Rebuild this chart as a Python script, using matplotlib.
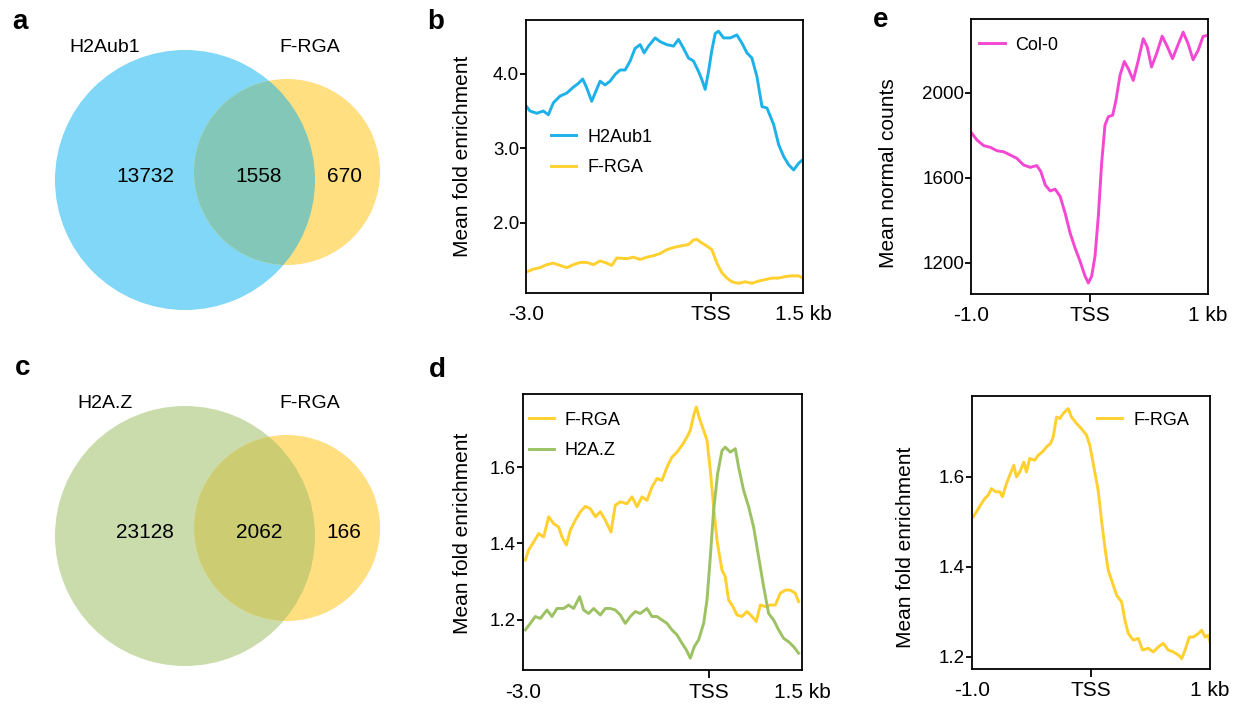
import numpy as np
import matplotlib
matplotlib.use('Agg')
import matplotlib.pyplot as plt
from matplotlib.patches import Circle

plt.rcParams['font.family'] = ['Liberation Sans', 'DejaVu Sans']

# ── Venn counts ───────────────────────────────────────────────────────────────
venn_a_sets   = ['H2Aub1', 'F-RGA']
venn_a_counts = [13732, 1558, 670]
venn_c_sets   = ['H2A.Z', 'F-RGA']
venn_c_counts = [23128, 2062, 166]

# ── Panel b: H2Aub1 / F-RGA profiles (-3 kb .. TSS .. 1.5 kb) ─────────────────
b_h2aub1_x = [-3.0, -2.935, -2.826, -2.718, -2.637, -2.555, -2.447, -2.338, -2.23, -2.149,
              -2.078, -2.013, -1.932, -1.877, -1.796, -1.715, -1.633, -1.552, -1.471, -1.389,
              -1.308, -1.227, -1.145, -1.08, -1.01, -0.901, -0.82, -0.712, -0.603, -0.522,
              -0.44, -0.359, -0.278, -0.196, -0.142, -0.088, -0.034, 0.021, 0.075, 0.129,
              0.21, 0.319, 0.427, 0.509, 0.59, 0.671, 0.753, 0.834, 0.915, 1.024,
              1.105, 1.187, 1.268, 1.349, 1.431, 1.5]
b_h2aub1_y = [3.57, 3.50, 3.47, 3.50, 3.45, 3.61, 3.70, 3.74, 3.82, 3.87,
              3.93, 3.81, 3.63, 3.74, 3.90, 3.85, 3.90, 3.99, 4.05, 4.05,
              4.17, 4.34, 4.39, 4.28, 4.37, 4.48, 4.43, 4.39, 4.37, 4.46,
              4.34, 4.21, 4.17, 4.03, 3.92, 3.79, 4.03, 4.32, 4.54, 4.57,
              4.48, 4.48, 4.52, 4.41, 4.28, 4.21, 3.96, 3.56, 3.54, 3.32,
              3.05, 2.89, 2.78, 2.71, 2.80, 2.85]
b_frga_x = [-3.0, -2.881, -2.772, -2.664, -2.555, -2.447, -2.338, -2.23, -2.121, -2.013,
            -1.904, -1.796, -1.687, -1.606, -1.525, -1.362, -1.254, -1.145, -1.037, -0.928,
            -0.82, -0.712, -0.603, -0.495, -0.359, -0.278, -0.224, -0.142, -0.061, 0.021,
            0.102, 0.184, 0.265, 0.346, 0.455, 0.563, 0.672, 0.78, 0.889, 0.997,
            1.105, 1.214, 1.322, 1.431, 1.5]
b_frga_y = [1.34, 1.38, 1.40, 1.44, 1.46, 1.43, 1.40, 1.44, 1.47, 1.47,
            1.44, 1.49, 1.46, 1.43, 1.53, 1.52, 1.54, 1.51, 1.54, 1.56,
            1.59, 1.64, 1.67, 1.69, 1.71, 1.77, 1.78, 1.73, 1.69, 1.64,
            1.46, 1.33, 1.26, 1.21, 1.19, 1.21, 1.19, 1.22, 1.24, 1.26,
            1.26, 1.28, 1.29, 1.29, 1.26]

# ── Panel d: F-RGA / H2A.Z profiles ───────────────────────────────────────────
d_frga_x = [-2.962, -2.909, -2.828, -2.747, -2.667, -2.586, -2.505, -2.425, -2.371, -2.301,
            -2.237, -2.156, -2.075, -1.995, -1.914, -1.833, -1.753, -1.672, -1.581, -1.511,
            -1.43, -1.323, -1.242, -1.161, -1.081, -1.0, -0.919, -0.839, -0.758, -0.677,
            -0.597, -0.516, -0.435, -0.355, -0.301, -0.247, -0.204, -0.151, -0.086, -0.032,
            0.022, 0.075, 0.129, 0.21, 0.263, 0.317, 0.387, 0.452, 0.532, 0.613,
            0.694, 0.763, 0.828, 0.909, 0.989, 1.07, 1.151, 1.231, 1.312, 1.392, 1.446]
d_frga_y = [1.357, 1.383, 1.404, 1.426, 1.417, 1.470, 1.452, 1.443, 1.417, 1.396,
            1.435, 1.461, 1.483, 1.497, 1.491, 1.470, 1.483, 1.461, 1.430, 1.500,
            1.509, 1.504, 1.522, 1.496, 1.522, 1.513, 1.548, 1.570, 1.565, 1.600,
            1.626, 1.639, 1.657, 1.678, 1.696, 1.735, 1.757, 1.726, 1.696, 1.670,
            1.591, 1.496, 1.409, 1.330, 1.313, 1.252, 1.235, 1.213, 1.209, 1.222,
            1.209, 1.196, 1.239, 1.235, 1.239, 1.239, 1.270, 1.278, 1.278, 1.270, 1.248]
d_h2az_x = [-2.962, -2.882, -2.801, -2.72, -2.613, -2.532, -2.452, -2.344, -2.264, -2.183,
            -2.086, -2.022, -1.941, -1.86, -1.753, -1.672, -1.591, -1.511, -1.43, -1.349,
            -1.269, -1.188, -1.108, -1.0, -0.919, -0.839, -0.758, -0.677, -0.597, -0.516,
            -0.435, -0.366, -0.301, -0.237, -0.167, -0.086, -0.032, 0.022, 0.075, 0.14,
            0.21, 0.263, 0.344, 0.425, 0.478, 0.559, 0.64, 0.72, 0.801, 0.882,
            0.962, 1.043, 1.124, 1.204, 1.285, 1.366, 1.446]
d_h2az_y = [1.174, 1.191, 1.209, 1.204, 1.226, 1.209, 1.230, 1.230, 1.239, 1.230,
            1.261, 1.226, 1.217, 1.230, 1.213, 1.230, 1.230, 1.226, 1.213, 1.191,
            1.209, 1.222, 1.217, 1.230, 1.209, 1.209, 1.200, 1.191, 1.174, 1.161,
            1.139, 1.122, 1.100, 1.130, 1.148, 1.191, 1.252, 1.365, 1.487, 1.583,
            1.643, 1.652, 1.639, 1.648, 1.600, 1.539, 1.496, 1.443, 1.365, 1.287,
            1.217, 1.200, 1.174, 1.152, 1.143, 1.130, 1.113]

# ── Panel e: Col-0 counts (-1 kb .. TSS .. 1 kb) ──────────────────────────────
e_col0_x = [-0.992, -0.95, -0.893, -0.837, -0.781, -0.725, -0.669, -0.613, -0.557, -0.501,
            -0.445, -0.411, -0.374, -0.332, -0.29, -0.248, -0.206, -0.164, -0.122, -0.08,
            -0.038, -0.01, 0.018, 0.046, 0.074, 0.102, 0.13, 0.158, 0.195, 0.223,
            0.257, 0.293, 0.327, 0.369, 0.411, 0.453, 0.487, 0.523, 0.565, 0.613,
            0.658, 0.7, 0.739, 0.79, 0.832, 0.874, 0.916, 0.958, 0.992]
e_col0_y = [1809, 1778, 1752, 1744, 1728, 1723, 1708, 1692, 1661, 1650,
            1658, 1630, 1567, 1539, 1547, 1513, 1434, 1341, 1270, 1208,
            1138, 1106, 1138, 1231, 1419, 1669, 1848, 1888, 1895, 1966,
            2083, 2148, 2114, 2059, 2153, 2255, 2216, 2122, 2184, 2267,
            2216, 2161, 2216, 2286, 2231, 2156, 2200, 2266, 2270]

# ── Panel f: F-RGA (-1 kb .. TSS .. 1 kb) ─────────────────────────────────────
f_frga_x = [-0.992, -0.964, -0.93, -0.893, -0.865, -0.837, -0.801, -0.767, -0.745, -0.711,
            -0.683, -0.649, -0.627, -0.599, -0.565, -0.543, -0.515, -0.473, -0.445, -0.408,
            -0.374, -0.341, -0.318, -0.29, -0.262, -0.234, -0.192, -0.164, -0.122, -0.08,
            -0.038, -0.01, 0.024, 0.06, 0.088, 0.116, 0.144, 0.173, 0.215, 0.257,
            0.285, 0.313, 0.355, 0.397, 0.433, 0.481, 0.523, 0.565, 0.607, 0.649,
            0.691, 0.734, 0.762, 0.79, 0.826, 0.86, 0.902, 0.93, 0.958, 0.986, 1.0]
f_frga_y = [1.511, 1.522, 1.537, 1.552, 1.559, 1.574, 1.567, 1.567, 1.556, 1.585,
            1.604, 1.626, 1.600, 1.611, 1.633, 1.611, 1.641, 1.637, 1.648, 1.656,
            1.667, 1.674, 1.689, 1.733, 1.730, 1.741, 1.752, 1.733, 1.719, 1.707,
            1.693, 1.670, 1.622, 1.570, 1.504, 1.444, 1.393, 1.370, 1.337, 1.322,
            1.281, 1.252, 1.237, 1.241, 1.215, 1.219, 1.211, 1.222, 1.230, 1.215,
            1.211, 1.204, 1.196, 1.215, 1.244, 1.244, 1.252, 1.259, 1.244, 1.248, 1.233]

BLUE   = '#1DB1EA'
YELLOW = '#FFD02E'
GREEN  = '#9CC263'
PINK   = '#F447D2'

fig = plt.figure(figsize=(12.37, 7.05), dpi=100)

# ── Venn diagrams on a pixel-space overlay ────────────────────────────────────
bg = fig.add_axes([0, 0, 1, 1], zorder=0)
bg.set_xlim(0, 1237)
bg.set_ylim(705, 0)
bg.axis('off')


def venn(ax, cy, sets, counts, c_big, c_small, c_mid):
    big = Circle((185, cy), 130, color=c_big, lw=0)
    small = Circle((287, cy - 8), 93, color=c_small, lw=0)
    mid = Circle((287, cy - 8), 93, color=c_mid, lw=0)
    ax.add_patch(big)
    ax.add_patch(small)
    ax.add_patch(mid)
    mid.set_clip_path(big)
    ax.text(105, cy - 133, sets[0], fontsize=14, ha='center', va='center')
    ax.text(310, cy - 133, sets[1], fontsize=14, ha='center', va='center')
    for x, n in zip([145, 259, 344], counts):
        ax.text(x, cy - 3, str(n), fontsize=15, ha='center', va='center')


venn(bg, 180, venn_a_sets, venn_a_counts, '#80D7F7', '#FFDF80', '#82C7B8')
venn(bg, 536, venn_c_sets, venn_c_counts, '#CADCAB', '#FFDF80', '#CCCD73')

for lab, x, y in [('a', 20, 22), ('b', 436, 22), ('e', 881, 20), ('c', 23, 368), ('d', 437, 370)]:
    bg.text(x, y, lab, fontsize=20, fontweight='bold', ha='center', va='center')


def style(ax, xlim, ylim, xlabels, yticks, ylabels, ylabel, lab_xy):
    ax.set_xlim(*xlim)
    ax.set_ylim(*ylim)
    ax.set_xticks([xlim[0], 0, xlim[1]])
    ax.set_xticklabels(xlabels, fontsize=15)
    ax.set_yticks(yticks)
    ax.set_yticklabels(ylabels, fontsize=13.5)
    ax.tick_params(axis='x', length=6, width=1.3, pad=3)
    ax.tick_params(axis='y', length=4, width=1.3, pad=1)
    xt = ax.xaxis.get_major_ticks()
    xt[0].tick1line.set_visible(False)
    xt[2].tick1line.set_visible(False)
    for s in ax.spines.values():
        s.set_linewidth(1.3)
    ax.set_ylabel(ylabel, fontsize=15)
    ax.yaxis.set_label_coords(*lab_xy)


leg_kw = dict(frameon=False, fontsize=13, handlelength=1.4, handletextpad=0.6,
              borderpad=0, borderaxespad=0, labelspacing=0.75)

# b
axb = fig.add_axes([0.4252, 0.5844, 0.2239, 0.3872], zorder=2)
axb.plot(b_h2aub1_x, b_h2aub1_y, color=BLUE, lw=2.1, label='H2Aub1')
axb.plot(b_frga_x, b_frga_y, color=YELLOW, lw=2.1, label='F-RGA')
style(axb, (-3, 1.5), (1.06, 4.72), ['-3.0', 'TSS', '1.5 kb'], [2, 3, 4],
      ['2.0', '3.0', '4.0'], 'Mean fold enrichment', (-0.195, 0.5))
axb.legend(loc='center left', bbox_to_anchor=(0.09, 0.515), **leg_kw)

# e
axe = fig.add_axes([0.7850, 0.5830, 0.1916, 0.3901], zorder=2)
axe.plot(e_col0_x, e_col0_y, color=PINK, lw=2.1, label='Col-0')
style(axe, (-1, 1), (1054, 2348), ['-1.0', 'TSS', '1 kb'], [1200, 1600, 2000],
      ['1200', '1600', '2000'], 'Mean normal counts', (-0.31, 0.44))
axe.legend(loc='center left', bbox_to_anchor=(0.035, 0.905), **leg_kw)

# d
axd = fig.add_axes([0.4228, 0.0496, 0.2255, 0.3915], zorder=2)
axd.plot(d_frga_x, d_frga_y, color=YELLOW, lw=2.1, label='F-RGA')
axd.plot(d_h2az_x, d_h2az_y, color=GREEN, lw=2.1, label='H2A.Z')
style(axd, (-3, 1.5), (1.069, 1.791), ['-3.0', 'TSS', '1.5 kb'], [1.2, 1.4, 1.6],
      ['1.2', '1.4', '1.6'], 'Mean fold enrichment', (-0.183, 0.496))
axd.legend(loc='center left', bbox_to_anchor=(0.02, 0.85), **leg_kw)

# f
axf = fig.add_axes([0.7858, 0.0511, 0.1924, 0.3872], zorder=2)
axf.plot(f_frga_x, f_frga_y, color=YELLOW, lw=2.1, label='F-RGA')
style(axf, (-1, 1), (1.173, 1.78), ['-1.0', 'TSS', '1 kb'], [1.2, 1.4, 1.6],
      ['1.2', '1.4', '1.6'], 'Mean fold enrichment', (-0.24, 0.447))
axf.legend(loc='center left', bbox_to_anchor=(0.525, 0.912), **leg_kw)

fig.savefig('out.png', dpi=100)
